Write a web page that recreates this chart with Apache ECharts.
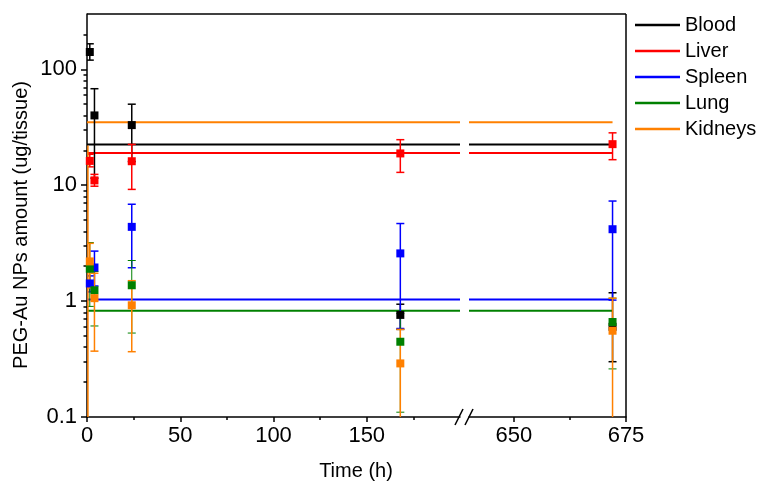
<!DOCTYPE html>
<html><head><meta charset="utf-8">
<script src="https://cdn.jsdelivr.net/npm/echarts@6/dist/echarts.min.js"></script>
<style>html,body{margin:0;padding:0;background:#fff}#c{width:770px;height:495px}</style>
</head><body><div id="c"></div>
<script>
// ---------- data ----------
const organs = ['Blood', 'Liver', 'Spleen', 'Lung', 'Kidneys'];

const bloodT  = [1.5, 4, 24, 168, 672];
const bloodV  = [141, 40, 33, 0.76, 0.6];
const bloodLo = [120, 11.5, 16, 0.57, 0.3];
const bloodHi = [166, 68, 50, 0.94, 1.18];

const liverT  = [1.5, 4, 24, 168, 672];
const liverV  = [16.2, 11, 16.1, 18.8, 22.6];
const liverLo = [14.4, 9.8, 9.2, 12.9, 16.6];
const liverHi = [18.5, 12.4, 22.5, 24.7, 28.3];

const spleenT  = [1.5, 4, 24, 168, 672];
const spleenV  = [1.42, 1.95, 4.37, 2.58, 4.17];
const spleenLo = [1.2, 1.35, 1.94, 0.58, 1.02];
const spleenHi = [1.65, 2.7, 6.85, 4.67, 7.3];

const lungT  = [1.5, 4, 24, 168, 672];
const lungV  = [1.9, 1.24, 1.37, 0.446, 0.66];
const lungLo = [0.9, 0.61, 0.53, 0.11, 0.26];
const lungHi = [3.2, 1.8, 2.24, 0.78, 1.06];

const kidneysT  = [0.5, 1.5, 4, 24, 168, 672];
const kidneysV  = [null, 2.2, 1.06, 0.92, 0.29, 0.555];
const kidneysLo = [0, 1.3, 0.37, 0.366, 0, 0];   // 0 = bar runs below the axis
const kidneysHi = [22, 3.15, 1.74, 1.5, 0.57, 1.06];

const meanValues = [22.5, 19, 1.03, 0.825, 35];
const meanSpan = [0, 672];

const leftRange = [0, 200];
const rightRange = [640, 675];
const leftTicks = [0, 50, 100, 150];
const leftMinorTicks = [25, 75, 125, 175];
const rightTicks = [650, 675];
const rightMinorTicks = [662.5];
const yRange = [0.1, 300];
const yTicks = [0.1, 1, 10, 100];
const yMinorTicks = [0.2, 0.3, 0.4, 0.5, 0.6, 0.7, 0.8, 0.9, 2, 3, 4, 5, 6, 7, 8, 9,
                     20, 30, 40, 50, 60, 70, 80, 90, 200];

// ---------- styling ----------
const colors = ['#000000', '#ff0000', '#0000ff', '#008000', '#ff8000'];
const errWidths = [1.5, 1.5, 1.5, 1, 1.5];
const FONT = '"Liberation Sans", Arial, sans-serif';
const FS = 20;      // titles, legend
const FS_TICK = 22; // tick labels

const organData = [
  [bloodT, bloodV, bloodLo, bloodHi],
  [liverT, liverV, liverLo, liverHi],
  [spleenT, spleenV, spleenLo, spleenHi],
  [lungT, lungV, lungLo, lungHi],
  [kidneysT, kidneysV, kidneysLo, kidneysHi]
];

function errRender(color, width) {
  return function (params, api) {
    const x = api.value(0), v = api.value(1), lo = api.value(2), hi = api.value(3);
    const hasV = !isNaN(v) && v !== null;
    const pHi = api.coord([x, hi]);
    const hasLo = lo > 0;
    const pLo = api.coord([x, hasLo ? lo : yRange[0]]);
    const st = { stroke: color, lineWidth: width };
    const ch = [{ type: 'line', shape: { x1: pHi[0], y1: pHi[1], x2: pLo[0], y2: pLo[1] }, style: st }];
    if (hasV) {
      ch.push({ type: 'line', shape: { x1: pHi[0] - 4, y1: pHi[1], x2: pHi[0] + 4, y2: pHi[1] }, style: st });
      if (hasLo) ch.push({ type: 'line', shape: { x1: pLo[0] - 4, y1: pLo[1], x2: pLo[0] + 4, y2: pLo[1] }, style: st });
    }
    return { type: 'group', children: ch };
  };
}

const series = [];
organs.forEach((name, i) => {
  const [T, V, L, H] = organData[i];
  const segs = [
    { xi: 0, yi: 0, range: leftRange },
    { xi: 2, yi: 2, range: rightRange }
  ];
  segs.forEach(seg => {
    const inSeg = (t) => t >= seg.range[0] && t <= seg.range[1];
    series.push({
      type: 'line', name, xAxisIndex: seg.xi, yAxisIndex: seg.yi,
      data: [[Math.max(meanSpan[0], seg.range[0]), meanValues[i]], [Math.min(meanSpan[1], seg.range[1]), meanValues[i]]],
      showSymbol: false, symbol: 'none', clip: true,
      lineStyle: { color: colors[i], width: 2 }, itemStyle: { color: colors[i] },
      z: 2, silent: true, animation: false
    });
    const err = [], pts = [];
    T.forEach((t, k) => {
      if (!inSeg(t)) return;
      err.push([t, V[k] === null ? NaN : V[k], L[k], H[k]]);
      if (V[k] !== null) pts.push([t, V[k]]);
    });
    series.push({
      type: 'custom', name, xAxisIndex: seg.xi, yAxisIndex: seg.yi,
      data: err, encode: { x: 0, y: 3 }, clip: true,
      renderItem: errRender(colors[i], errWidths[i]),
      itemStyle: { color: colors[i] }, z: 3, silent: true, animation: false
    });
    series.push({
      type: 'scatter', name, xAxisIndex: seg.xi, yAxisIndex: seg.yi,
      data: pts, symbol: 'rect', symbolSize: 8,
      itemStyle: { color: colors[i], opacity: 1 }, z: 4, silent: true, animation: false
    });
  });
});

const axisLineStyle = { color: '#000', width: 1.5 };
const labelStyle = { color: '#000', fontSize: FS_TICK, fontFamily: FONT };

const option = {
  animation: false,
  backgroundColor: '#fff',
  grid: [
    { left: 87, top: 14, width: 373, height: 403 },
    { left: 469, top: 14, width: 157, height: 403 }
  ],
  xAxis: [
    { type: 'value', gridIndex: 0, position: 'bottom', min: leftRange[0], max: leftRange[1],
      axisLine: { show: true, lineStyle: axisLineStyle },
      axisTick: { show: true, length: 5, customValues: leftTicks, lineStyle: axisLineStyle },
      axisLabel: { show: true, customValues: leftTicks, margin: 8, ...labelStyle },
      splitLine: { show: false } },
    { type: 'value', gridIndex: 0, position: 'bottom', min: leftRange[0], max: leftRange[1],
      axisLine: { show: false },
      axisTick: { show: true, length: 3, customValues: leftMinorTicks, lineStyle: axisLineStyle },
      axisLabel: { show: false }, splitLine: { show: false } },
    { type: 'value', gridIndex: 1, position: 'bottom', min: rightRange[0], max: rightRange[1],
      axisLine: { show: true, lineStyle: axisLineStyle },
      axisTick: { show: true, length: 5, customValues: rightTicks, lineStyle: axisLineStyle },
      axisLabel: { show: true, customValues: rightTicks, margin: 8, ...labelStyle },
      splitLine: { show: false } },
    { type: 'value', gridIndex: 1, position: 'bottom', min: rightRange[0], max: rightRange[1],
      axisLine: { show: false },
      axisTick: { show: true, length: 3, customValues: rightMinorTicks, lineStyle: axisLineStyle },
      axisLabel: { show: false }, splitLine: { show: false } }
  ],
  yAxis: [
    { type: 'log', logBase: 10, gridIndex: 0, position: 'left', min: yRange[0], max: yRange[1],
      axisLine: { show: true, lineStyle: axisLineStyle },
      axisTick: { show: true, length: 6, customValues: yTicks, lineStyle: axisLineStyle },
      axisLabel: { show: true, customValues: yTicks, margin: 10, formatter: v => String(+v.toPrecision(3)), ...labelStyle },
      splitLine: { show: false } },
    { type: 'log', logBase: 10, gridIndex: 0, position: 'left', min: yRange[0], max: yRange[1],
      axisLine: { show: false },
      axisTick: { show: true, length: 3.5, customValues: yMinorTicks, lineStyle: axisLineStyle },
      axisLabel: { show: false }, splitLine: { show: false } },
    { type: 'log', logBase: 10, gridIndex: 1, min: yRange[0], max: yRange[1], show: false }
  ],
  legend: {
    orient: 'vertical', left: 635, top: 15, itemGap: 6, padding: 0,
    icon: 'rect', itemWidth: 45, itemHeight: 2.5,
    data: organs,
    textStyle: { color: '#000', fontSize: FS, fontFamily: FONT, lineHeight: 20 },
    selectedMode: false
  },
  graphic: [
    { type: 'line', shape: { x1: 87, y1: 14, x2: 626, y2: 14 }, style: { stroke: '#000', lineWidth: 1.5 }, z: 10 },
    { type: 'line', shape: { x1: 626, y1: 14, x2: 626, y2: 417 }, style: { stroke: '#000', lineWidth: 1.5 }, z: 10 },
    { type: 'line', shape: { x1: 455, y1: 425, x2: 463, y2: 409 }, style: { stroke: '#000', lineWidth: 1.5 }, z: 10 },
    { type: 'line', shape: { x1: 465, y1: 425, x2: 473, y2: 409 }, style: { stroke: '#000', lineWidth: 1.5 }, z: 10 },
    { type: 'text', x: 356, y: 471, style: { text: 'Time (h)', font: FS + 'px ' + FONT, fill: '#000', align: 'center', verticalAlign: 'middle' } },
    { type: 'text', x: 21, y: 225, rotation: Math.PI / 2, style: { text: 'PEG-Au NPs amount (ug/tissue)', font: FS + 'px ' + FONT, fill: '#000', align: 'center', verticalAlign: 'middle' } }
  ],
  series
};

const chart = echarts.init(document.getElementById('c'), null, { renderer: 'canvas' });
chart.setOption(option);
</script>
</body></html>
